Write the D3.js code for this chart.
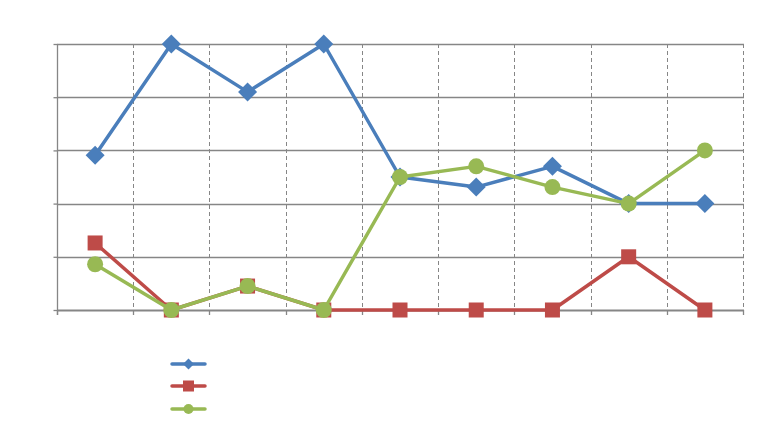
<!DOCTYPE html>
<html><head><meta charset="utf-8">
<script src="https://cdn.jsdelivr.net/npm/d3@7"></script>
<style>html,body{margin:0;padding:0;background:#fff;}svg{display:block;}</style>
</head><body>
<svg id="c" width="764" height="428"></svg>
<script>
const categories = ["1","2","3","4","5","6","7","8","9"];
const yTicks = [0,1,2,3,4,5];
const seriesBlue  = [2.91, 5, 4.1, 5, 2.5, 2.31, 2.7, 2, 2];
const seriesRed   = [1.26, 0, 0.45, 0, 0, 0, 0, 1, 0];
const seriesGreen = [0.86, 0, 0.45, 0, 2.5, 2.7, 2.31, 2, 3];
const seriesNames = ["A","B","C"];

const series = [
  {name: seriesNames[0], values: seriesBlue,  color: "#4a7ebb", marker: "diamond"},
  {name: seriesNames[1], values: seriesRed,   color: "#be4b48", marker: "square"},
  {name: seriesNames[2], values: seriesGreen, color: "#98b954", marker: "circle"}
];

const svg = d3.select("#c");
const L = 57, R = 743, T = 44, B = 310;
const x = d3.scaleBand().domain(categories).range([L, R]);
const y = d3.scaleLinear().domain([0, 5]).range([B, T]);
const grid = "#868686";
const px = v => Math.round(v) + 0.5;

// horizontal gridlines
svg.append("g").selectAll("line").data(yTicks).join("line")
  .attr("x1", L).attr("x2", R + 1)
  .attr("y1", d => px(y(d))).attr("y2", d => px(y(d)))
  .attr("stroke", grid).attr("stroke-width", d => (d === 0 ? 2 : 1.3));

// vertical dashed gridlines
const vx = categories.slice(1).map(c => x(c)).concat([R]);
svg.append("g").selectAll("line").data(vx).join("line")
  .attr("x1", d => px(d)).attr("x2", d => px(d))
  .attr("y1", T).attr("y2", B)
  .attr("stroke", grid).attr("stroke-width", 1).attr("stroke-dasharray", "4,3");

// axes
const yAxis = d3.axisLeft(y).tickValues(yTicks).tickSize(4).tickFormat("");
const gy = svg.append("g").attr("transform", `translate(${px(L)},0)`).call(yAxis);
gy.selectAll("line,path").attr("stroke", grid).attr("stroke-width", 1.3);
gy.select("path").attr("d", `M0,${T}V${B + 5}`);

const xEdges = [L].concat(vx);
svg.append("g").selectAll("line").data(xEdges).join("line")
  .attr("x1", d => px(d)).attr("x2", d => px(d))
  .attr("y1", B).attr("y2", B + 5)
  .attr("stroke", grid).attr("stroke-width", 1.3);

const cx = c => x(c) + x.bandwidth() / 2;

function drawMarker(g, type, color, mx, my, s) {
  if (type === "diamond") {
    g.append("path").attr("d", `M${mx},${my - s}L${mx + s},${my}L${mx},${my + s}L${mx - s},${my}Z`).attr("fill", color);
  } else if (type === "square") {
    g.append("rect").attr("x", mx - s).attr("y", my - s).attr("width", 2 * s).attr("height", 2 * s).attr("fill", color);
  } else {
    g.append("circle").attr("cx", mx).attr("cy", my).attr("r", s).attr("fill", color);
  }
}
const mSize = {diamond: 9.5, square: 7.5, circle: 8};

const line = d3.line().x((d, i) => cx(categories[i])).y(d => y(d));
series.forEach(s => {
  const g = svg.append("g");
  g.append("path").datum(s.values).attr("d", line)
    .attr("fill", "none").attr("stroke", s.color).attr("stroke-width", 3.5)
    .attr("stroke-linejoin", "round");
  s.values.forEach((v, i) => drawMarker(g, s.marker, s.color, cx(categories[i]), y(v), mSize[s.marker]));
});

// legend (no text in the reference)
const legY = [364, 386, 409];
const legS = {diamond: 5.5, square: 5.5, circle: 5};
series.forEach((s, i) => {
  const g = svg.append("g");
  g.append("line").attr("x1", 172).attr("x2", 205).attr("y1", legY[i]).attr("y2", legY[i])
    .attr("stroke", s.color).attr("stroke-width", 3.5).attr("stroke-linecap", "round");
  drawMarker(g, s.marker, s.color, 188.5, legY[i], legS[s.marker]);
});
</script>
</body></html>
